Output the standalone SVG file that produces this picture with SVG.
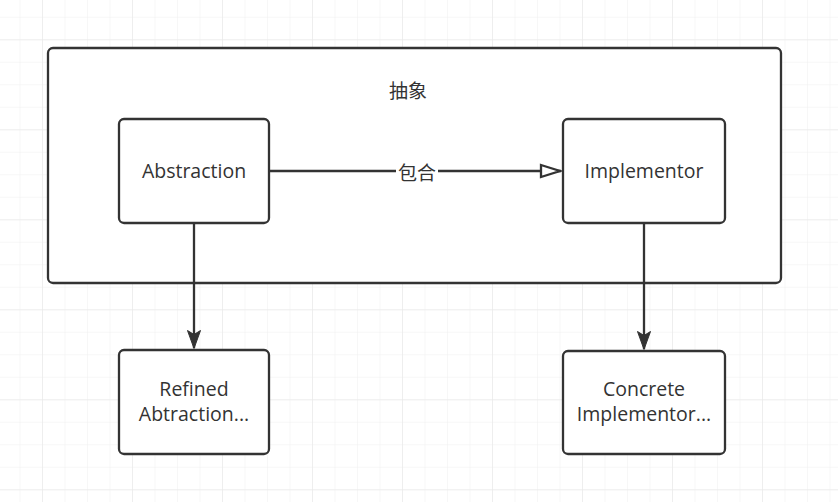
<svg xmlns="http://www.w3.org/2000/svg" width="838" height="502" viewBox="0 0 838 502">
<defs>
<pattern id="minor" x="19.5" y="16.8" width="22.5" height="22.5" patternUnits="userSpaceOnUse">
<path d="M0 0 H22.5 M0 0 V22.5" fill="none" stroke="#f0f0f0" stroke-width="1"/>
</pattern>
<pattern id="major" x="42" y="39.3" width="90" height="90" patternUnits="userSpaceOnUse">
<path d="M0 0 H90 M0 0 V90" fill="none" stroke="#e6e6e6" stroke-width="1"/>
</pattern>
<marker id="fill" viewBox="0 0 19 14" refX="18" refY="7" markerWidth="19" markerHeight="14" markerUnits="userSpaceOnUse" orient="auto">
<path d="M0.5 0.5 L18.5 7 L0.5 13.5 L4.5 7 Z" fill="#333" stroke="#333" stroke-width="1"/>
</marker>
<marker id="open" viewBox="0 0 24 16" refX="22" refY="8" markerWidth="24" markerHeight="16" markerUnits="userSpaceOnUse" orient="auto">
<path d="M2 2 L21 8 L2 14 Z" fill="#fff" stroke="#333" stroke-width="2.3" stroke-linejoin="miter"/>
</marker>
</defs>
<style>
.box{fill:#fff;stroke:#333;stroke-width:2.3}
.t{font-family:"Open Sans","Noto Sans","Noto Sans CJK SC",sans-serif;font-size:19.5px;fill:#333;text-anchor:middle}
.c{font-family:"Noto Sans CJK SC","Open Sans",sans-serif;font-size:19px;fill:#333;text-anchor:middle}
.e{fill:none;stroke:#333;stroke-width:2.3}
</style>
<rect width="838" height="502" fill="#fff"/>
<rect width="838" height="502" fill="url(#minor)"/>
<rect width="838" height="502" fill="url(#major)"/>
<g id="container">
<rect class="box" x="48" y="48" width="733" height="235" rx="5"/>
<text class="c" x="408" y="98">抽象</text>
</g>
<g id="abstraction">
<rect class="box" x="119" y="119" width="150" height="104" rx="5"/>
<text class="t" x="194" y="178">Abstraction</text>
</g>
<g id="implementor">
<rect class="box" x="563" y="119" width="162" height="104" rx="5"/>
<text class="t" x="644" y="178">Implementor</text>
</g>
<g id="refined">
<rect class="box" x="119" y="350" width="150" height="104" rx="5"/>
<text class="t" x="194" y="396">Refined</text>
<text class="t" x="194" y="421">Abtraction...</text>
</g>
<g id="concrete">
<rect class="box" x="563" y="351" width="162" height="103" rx="5"/>
<text class="t" x="644" y="396">Concrete</text>
<text class="t" x="644" y="421">Implementor...</text>
</g>
<g id="connectors">
<path class="e" d="M269 171 H561" marker-end="url(#open)"/>
<rect x="396" y="160" width="42" height="24" fill="#fff"/>
<text class="c" x="417" y="180">包合</text>
<path class="e" d="M194 223 V348" marker-end="url(#fill)"/>
<path class="e" d="M644 223 V349" marker-end="url(#fill)"/>
</g>
</svg>
